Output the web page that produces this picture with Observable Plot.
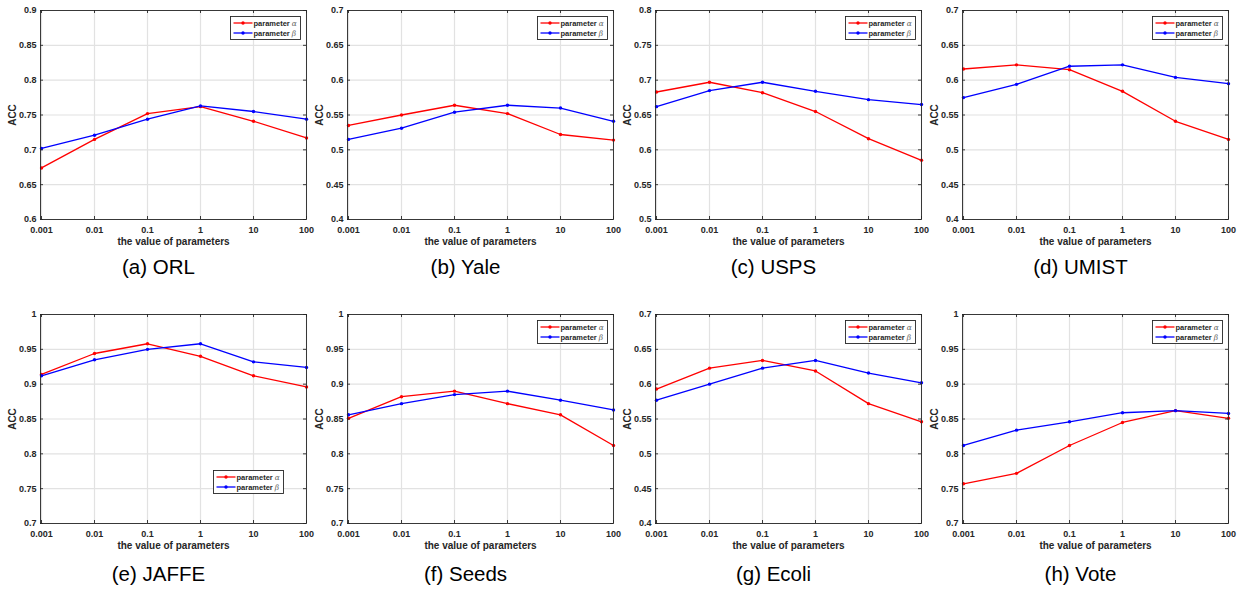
<!DOCTYPE html>
<html>
<head>
<meta charset="utf-8">
<script src="https://cdn.jsdelivr.net/npm/d3@7"></script>
<script src="https://cdn.jsdelivr.net/npm/@observablehq/plot@0.6"></script>
<style>
  body { margin: 0; background: #fff; }
  #root { position: relative; width: 1241px; height: 589px; overflow: hidden; background: #fff;
          font-family: "Liberation Sans", Arial, Helvetica, sans-serif; }
  .panel { position: absolute; }
  .legend { position: absolute; }
</style>
</head>
<body>
<div id="root"></div>
<script>
// ---------- data ----------
const params = ["0.001", "0.01", "0.1", "1", "10", "100"];
const seriesNames = ["parameter α", "parameter β"];
const seriesColors = ["#ff0000", "#0000ff"];

const orlAlpha   = [0.674, 0.715, 0.752, 0.762, 0.741, 0.717];
const orlBeta    = [0.702, 0.721, 0.744, 0.763, 0.755, 0.744];
const yaleAlpha  = [0.535, 0.550, 0.564, 0.552, 0.522, 0.514];
const yaleBeta   = [0.515, 0.531, 0.554, 0.564, 0.560, 0.541];
const uspsAlpha  = [0.683, 0.697, 0.682, 0.655, 0.616, 0.585];
const uspsBeta   = [0.662, 0.685, 0.697, 0.684, 0.672, 0.665];
const umistAlpha = [0.616, 0.622, 0.615, 0.584, 0.541, 0.515];
const umistBeta  = [0.575, 0.594, 0.620, 0.622, 0.604, 0.595];
const jaffeAlpha = [0.914, 0.944, 0.958, 0.940, 0.912, 0.896];
const jaffeBeta  = [0.912, 0.935, 0.950, 0.958, 0.932, 0.924];
const seedsAlpha = [0.851, 0.882, 0.890, 0.872, 0.856, 0.812];
const seedsBeta  = [0.856, 0.872, 0.885, 0.890, 0.877, 0.863];
const ecoliAlpha = [0.593, 0.623, 0.634, 0.619, 0.572, 0.546];
const ecoliBeta  = [0.577, 0.600, 0.623, 0.634, 0.616, 0.602];
const voteAlpha  = [0.757, 0.772, 0.812, 0.845, 0.862, 0.851];
const voteBeta   = [0.812, 0.834, 0.846, 0.859, 0.862, 0.858];

const yTicks04 = [0.4, 0.45, 0.5, 0.55, 0.6, 0.65, 0.7];
const yTicks05 = [0.5, 0.55, 0.6, 0.65, 0.7, 0.75, 0.8];
const yTicks06 = [0.6, 0.65, 0.7, 0.75, 0.8, 0.85, 0.9];
const yTicks07 = [0.7, 0.75, 0.8, 0.85, 0.9, 0.95, 1];

const captions = ["(a) ORL", "(b) Yale", "(c) USPS", "(d) UMIST", "(e) JAFFE", "(f) Seeds", "(g) Ecoli", "(h) Vote"];
const xLabel = "the value of parameters";
const yLabel = "ACC";

// ---------- layout ----------
const FONT = '"Liberation Sans", Arial, Helvetica, sans-serif';
const INK = "#262626";
const W = 266, H = 209;
const mL = 40, mR = 10, mT = 8, mB = 66;
const colLefts = [40, 347, 655, 962];
const rowTops = [10, 314];
const capDy = [48, 51];

const panels = [
  {alpha: orlAlpha,   beta: orlBeta,   ticks: yTicks06, legend: "tr"},
  {alpha: yaleAlpha,  beta: yaleBeta,  ticks: yTicks04, legend: "tr"},
  {alpha: uspsAlpha,  beta: uspsBeta,  ticks: yTicks05, legend: "tr"},
  {alpha: umistAlpha, beta: umistBeta, ticks: yTicks04, legend: "tr"},
  {alpha: jaffeAlpha, beta: jaffeBeta, ticks: yTicks07, legend: "br"},
  {alpha: seedsAlpha, beta: seedsBeta, ticks: yTicks07, legend: "tr"},
  {alpha: ecoliAlpha, beta: ecoliBeta, ticks: yTicks04, legend: "tr"},
  {alpha: voteAlpha,  beta: voteBeta,  ticks: yTicks07, legend: "tr"}
];

const root = document.getElementById("root");

panels.forEach((cfg, k) => {
  const row = Math.floor(k / 4), col = k % 4;
  const plotLeft = colLefts[col], plotTop = rowTops[row];
  const data = [];
  params.forEach((p, i) => data.push({p, v: cfg.alpha[i], s: seriesNames[0]}));
  params.forEach((p, i) => data.push({p, v: cfg.beta[i], s: seriesNames[1]}));
  const ticks = cfg.ticks;
  const textStyle = {fill: INK, fontWeight: "bold", fontFamily: FONT};

  const chart = Plot.plot({
    width: W + mL + mR, height: H + mT + mB,
    marginLeft: mL, marginRight: mR, marginTop: mT, marginBottom: mB,
    style: {background: "transparent", fontFamily: FONT, overflow: "visible"},
    x: {type: "point", domain: params, padding: 0},
    y: {domain: [ticks[0], ticks[ticks.length - 1]]},
    color: {domain: seriesNames, range: seriesColors},
    marks: [
      Plot.gridX(params, {stroke: "#e2e2e2", strokeOpacity: 1, strokeWidth: 1.2}),
      Plot.gridY(ticks, {stroke: "#e2e2e2", strokeOpacity: 1, strokeWidth: 1.2}),
      Plot.line(data, {x: "p", y: "v", z: "s", stroke: "s", strokeWidth: 1.3}),
      Plot.dot(data, {x: "p", y: "v", fill: "s", r: 1.7}),
      Plot.frame({stroke: INK, strokeWidth: 0.9}),
      Plot.tickX(params, {x: d => d, insetTop: H - 3, stroke: INK, strokeWidth: 0.9}),
      Plot.tickX(params, {x: d => d, insetBottom: H - 3, stroke: INK, strokeWidth: 0.9}),
      Plot.tickY(ticks, {y: d => d, insetRight: W - 3, stroke: INK, strokeWidth: 0.9}),
      Plot.tickY(ticks, {y: d => d, insetLeft: W - 3, stroke: INK, strokeWidth: 0.9}),
      Plot.axisX({tickSize: 0, tickPadding: 7, fontSize: 9, label: null, ...textStyle}),
      Plot.axisY({ticks: ticks, tickSize: 0, tickPadding: 4, fontSize: 9, label: null,
                  tickFormat: d => String(d), ...textStyle}),
      Plot.text([xLabel], {frameAnchor: "bottom", dy: 22.5, fontSize: 10,
                           textAnchor: "middle", lineAnchor: "middle", ...textStyle}),
      Plot.text([yLabel], {frameAnchor: "left", dx: -27.5, rotate: -90, fontSize: 10,
                           textAnchor: "middle", lineAnchor: "middle", ...textStyle}),
      Plot.text([captions[k]], {frameAnchor: "bottom", dy: capDy[row], dx: -15, fontSize: 20.5,
                                textAnchor: "middle", lineAnchor: "middle", fill: "#000", fontFamily: FONT})
    ]
  });
  const wrap = document.createElement("div");
  wrap.className = "panel";
  wrap.style.left = (plotLeft - mL) + "px";
  wrap.style.top = (plotTop - mT) + "px";
  wrap.appendChild(chart);
  root.appendChild(wrap);

  // legend box
  const LW = 70, LH = 23;
  let lx, ly;
  if (cfg.legend === "tr") { lx = plotLeft + W - 6 - LW; ly = plotTop + 5.5; }
  else { lx = plotLeft + W - 23 - LW; ly = plotTop + H - 30 - LH; }
  const lg = d3.create("svg").attr("class", "legend").attr("width", LW + 1).attr("height", LH + 1)
    .style("left", lx + "px").style("top", ly + "px");
  lg.append("rect").attr("x", 0.5).attr("y", 0.5).attr("width", LW).attr("height", LH)
    .attr("fill", "#fff").attr("stroke", INK).attr("stroke-width", 0.9);
  seriesNames.forEach((name, i) => {
    const cy = 7 + i * 10;
    lg.append("line").attr("x1", 3.5).attr("x2", 22.5).attr("y1", cy).attr("y2", cy)
      .attr("stroke", seriesColors[i]).attr("stroke-width", 1.3);
    lg.append("circle").attr("cx", 13).attr("cy", cy).attr("r", 1.7).attr("fill", seriesColors[i]);
    const t = lg.append("text").attr("x", 23.5).attr("y", cy + 2.7)
      .attr("font-family", FONT).attr("font-size", 7.5).attr("fill", INK);
    t.append("tspan").attr("font-weight", "bold").text(name.slice(0, 10));
    t.append("tspan").attr("font-family", '"DejaVu Serif", "Liberation Serif", serif')
      .attr("font-style", "italic").attr("fill", "#666").text(name.slice(10));
  });
  root.appendChild(lg.node());
});
</script>
</body>
</html>
